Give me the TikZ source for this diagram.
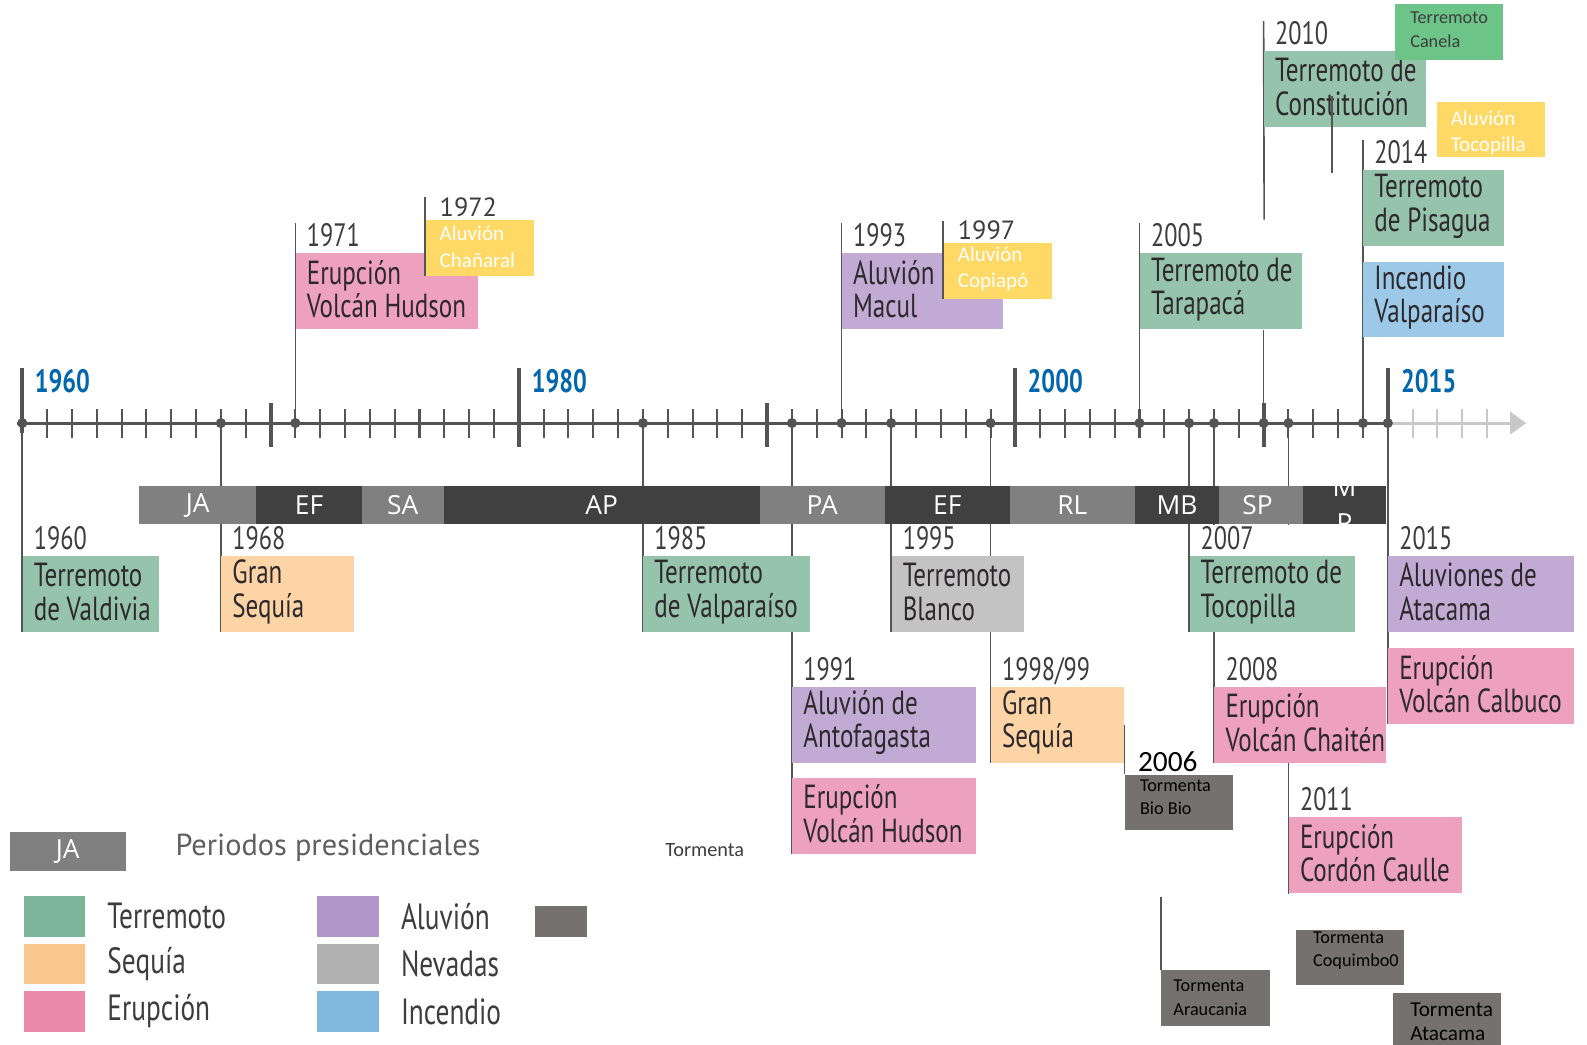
\documentclass[tikz,border=0pt]{standalone}
\usepackage{fontspec}
\setmainfont{PT Sans}
\newfontfamily\condfont{PT Sans}[FakeStretch=0.75]
\newfontfamily\calfont{Carlito}
\newfontfamily\barfont{Open Sans}
\usetikzlibrary{arrows.meta, backgrounds, positioning}

\definecolor{terr}{HTML}{96C3AC}
\definecolor{erup}{HTML}{EDA1BE}
\definecolor{aluv}{HTML}{C1AAD3}
\definecolor{sequ}{HTML}{FCD4A5}
\definecolor{neva}{HTML}{C3C3C3}
\definecolor{ince}{HTML}{9DC9E8}
\definecolor{terrkey}{HTML}{7DB59B}
\definecolor{sequkey}{HTML}{F9C68D}
\definecolor{erupkey}{HTML}{EA8AAB}
\definecolor{aluvkey}{HTML}{B196C9}
\definecolor{nevakey}{HTML}{B1B1B1}
\definecolor{incekey}{HTML}{80B9DD}
\definecolor{yell}{HTML}{FFD966}
\definecolor{canela}{HTML}{6DC489}
\definecolor{storm}{HTML}{757171}
\definecolor{barlight}{HTML}{808080}
\definecolor{bardark}{HTML}{404040}
\definecolor{axisink}{HTML}{545454}
\definecolor{lineink}{HTML}{555555}
\definecolor{fadeink}{HTML}{C8C8C8}
\definecolor{decblue}{HTML}{0067AE}
\definecolor{yrink}{HTML}{3D3D3D}
\definecolor{boxink}{HTML}{2D282C}
\definecolor{keygray}{HTML}{5F5F5F}

\begin{document}
\begin{tikzpicture}[x=0.5pt, y=-0.5pt]
  \tikzset{
   evbox/.style={rectangle, inner sep=0pt, anchor=north west, minimum height=37.5pt},
   evtext/.style={font=\condfont\fontsize{16.5}{16.5}\selectfont, text=boxink, align=left, anchor=west, inner sep=0pt},
   yrlabel/.style={font=\condfont\fontsize{16}{17}\selectfont, text=yrink, anchor=base west, inner sep=0pt},
   yrsmall/.style={font=\fontsize{13}{15}\selectfont, text=yrink, anchor=base west, inner sep=0pt},
   decade/.style={font=\condfont\bfseries\fontsize{16}{17}\selectfont, text=decblue, anchor=west, inner sep=0pt},
   evline/.style={draw=lineink, line width=0.8pt},
   minor/.style={draw=axisink, line width=1pt},
   major/.style={draw=axisink, line width=2pt},
   dot/.style={circle, fill=axisink, inner sep=0pt, minimum size=5pt},
   pres/.style={rectangle, inner sep=0pt, minimum height=19pt, anchor=west, align=center, font=\barfont\fontsize{13}{18}\selectfont, text=white},
   sbox/.style={rectangle, inner sep=0pt, anchor=north west, minimum width=53.5pt, minimum height=27.5pt},
   stext/.style={font=\calfont\fontsize{10.4}{13}\selectfont, align=left, anchor=west, inner sep=0pt},
   storm/.style={font=\calfont\fontsize{9}{11.5}\selectfont, text=black, align=left, anchor=west, inner sep=0pt},
   swatch/.style={rectangle, inner sep=0pt, anchor=north west, minimum width=30.5pt, minimum height=20pt},
   keytext/.style={font=\condfont\fontsize{18}{19}\selectfont, text=yrink, anchor=west, inner sep=0pt},
  }
  \useasboundingbox (0,0) rectangle (1568,1032);
  \begin{scope}[on background layer]
   \fill[white] (0,0) rectangle (1568,1032);
  \end{scope}

  % axis
  \coordinate (ax0) at (17,418);
  \coordinate (ax1) at (1372,418);
  \coordinate (ax2) at (1508,418);
  \draw[fadeink, line width=1.5pt, -{Triangle[length=8pt, width=11pt]}] (ax1) -- (ax2);
  \draw[axisink, line width=1.5pt] (ax0) -- (ax1);
  \foreach \k in {1,...,54} {
   \pgfmathsetmacro{\tx}{22+24.53*\k}
   \draw[minor] (\tx,404) -- (\tx,433);
  }
  \foreach \k in {56,...,59} {
   \pgfmathsetmacro{\tx}{22+24.53*\k}
   \draw[minor, fadeink] (\tx,404) -- (\tx,433);
  }
  \foreach \k/\ya/\yb in {0/364/428, 10/398/442, 20/364/442, 30/398/442, 40/364/442, 50/398/442, 55/364/418} {
   \pgfmathsetmacro{\tx}{22+24.53*\k}
   \draw[major] (\tx,\ya) -- (\tx,\yb);
  }
  \foreach \x/\t in {34/1960, 525/1980, 1015/2000, 1384/2015}
   \node[decade] (dec\t) at (\x,377) {\t};

  % event dots
  \foreach \yr in {1960,1968,1971,1985,1991,1993,1995,1999,2005,2007,2008,2010,2011,2014,2015} {
   \pgfmathsetmacro{\ex}{22+24.53*(\yr-1960)}
   \coordinate (d\yr) at (\ex,418);
  }

  % events
  \foreach \yr/\nm/\y/\w/\c/\lab/\txt in {
   1971/e1971/250/180/erup/1971/Erupción\\Volcán Hudson,
   1993/e1993/250/159/aluv/1993/Aluvión de\\Macul,
   2005/e2005/250/160/terr/2005/Terremoto de\\Tarapacá,
   2010/e2010/50/160/terr/2010/Terremoto de\\Constitución,
   2014/e2014/168/139/terr/2014/Terremoto\\de Pisagua,
   2014/e2014b/258/139/ince//Incendio\\Valparaíso,
   1960/e1960/549/135/terr/1960/Terremoto\\de Valdivia,
   1968/e1968/549/131/sequ/1968/Gran\\Sequía,
   1985/e1985/549/165/terr/1985/Terremoto\\de Valparaíso,
   1991/e1991/678/181/aluv/1991/Aluvión de\\Antofagasta,
   1991/e1991b/768/181/erup//Erupción\\Volcán Hudson,
   1995/e1995/549/131/neva/1995/Terremoto\\Blanco,
   1999/e1999/678/131/sequ/{1998/99}/Gran\\Sequía,
   2007/e2007/549/163/terr/2007/Terremoto de\\Tocopilla,
   2008/e2008/678/170/erup/2008/Erupción\\Volcán Chaitén,
   2011/e2011/807/171/erup/2011/Erupción\\Cordón Caulle,
   2015/e2015/549/184/aluv/2015/Aluviones de\\Atacama,
   2015/e2015b/640/184/erup//Erupción\\Volcán Calbuco
  } {
   \node[evbox, fill=\c, minimum width=\w*0.5pt] (\nm) at (d\yr |- 0,\y) {};
   \node[evtext] (\nm-t) at ([xshift=5.5pt, yshift=1pt]\nm.west) {\txt};
   \node[yrlabel] (\nm-y) at ([xshift=5.5pt, yshift=3pt]\nm.north west) {\lab};
  }

  % presidential periods
  \foreach \a/\b/\c/\t [count=\i] in {
   137/253/barlight/JA, 253/357/bardark/EF, 357/438/barlight/SA,
   438/750/bardark/AP, 750/874/barlight/PA, 874/997/bardark/EF,
   997/1121/barlight/RL, 1121/1204/bardark/MB, 1204/1287/barlight/SP
  } {
   \node[pres, fill=\c, minimum width=(\b-\a)*0.5pt] (p\i) at (\a,499) {\t};
  }
  \node[pres, fill=bardark, minimum width=41pt] (p10) at (1287,499) {};
  \begin{scope}
   \clip (p10.south west) rectangle (p10.north east);
   \node[pres, anchor=center] (p10-t) at (p10.center) {M\\P};
  \end{scope}

  % connectors, behind boxes and bar
  \begin{scope}[on background layer]
   \foreach \yr in {1971,1993,2005,2014}
    \draw[evline] (d\yr) -- (e\yr-y.north -| d\yr);
   \coordinate (k2010) at (1249,217);
   \draw[evline] (e2010-y.north -| d2010) -- (k2010);
   \draw[evline] (d2010) -- (e2005.south -| d2010);
   \foreach \yr/\b in {1960/e1960, 1968/e1968, 1985/e1985, 1991/e1991b, 1995/e1995, 1999/e1999, 2007/e2007, 2015/e2015b}
    \draw[evline] (d\yr) -- (\b.south west);
   \draw[evline] (d2008) -- (p1.south -| d2008);
   \draw[evline] (e2007.south -| d2008) -- (e2008.south west);
   \draw[evline] (d2011) -- (p1.south -| d2011);
   \draw[evline] (e2008.south -| d2011) -- (e2011.south west);
  \end{scope}

  \foreach \yr in {1960,1968,1971,1985,1991,1993,1995,1999,2005,2007,2008,2010,2011,2014,2015}
   \node[dot] (dot\yr) at (d\yr) {};

  % added events
  \node[sbox, fill=yell] (a1972) at (420,217) {};
  \node[stext, text=white] (a1972-t) at ([xshift=7pt, yshift=0.5pt]a1972.west) {Aluvión\\Chañaral};
  \node[yrsmall] (a1972-y) at ([xshift=7pt, yshift=1.5pt]a1972.north west) {1972};
  \draw[evline] (a1972-y.north -| a1972.west) -- (a1972.south west);

  \node[sbox, fill=yell] (a1997) at (932,240) {};
  \node[stext, text=white] (a1997-t) at ([xshift=7pt, yshift=1pt]a1997.west) {Aluvión\\Copiapó};
  \node[yrsmall] (a1997-y) at ([xshift=7pt, yshift=1.5pt]a1997.north west) {1997};
  \draw[evline] (a1997-y.north -| a1997.west) -- (a1997.south west);

  \node[sbox, fill=canela] (acanela) at (1378,4) {};
  \node[storm, text=yrink] (acanela-t) at ([xshift=7.5pt, yshift=1.25pt]acanela.west) {Terremoto\\Canela};

  \node[sbox, fill=yell] (atoco) at (1419,100) {};
  \node[stext, text=white] (atoco-t) at ([xshift=7pt, yshift=-1.75pt]atoco.west) {Aluvión\\Tocopilla};

  \coordinate (s1) at (1316,95);
  \coordinate (s2) at (1316,171);
  \draw[evline] (s1) -- (s2);

  % storms
  \coordinate (c2006) at (1111,716);
  \draw[evline] (c2006) -- (1111,765);
  \node[sbox, fill=storm] (b2006) at (1111,765) {};
  \node[storm] (b2006-t) at ([xshift=7.5pt, yshift=2.5pt]b2006.west) {Tormenta\\Bio Bio};
  \node[font=\calfont\fontsize{14.5}{16}\selectfont, text=black, anchor=base west, inner sep=0pt] (b2006-y) at ([xshift=6.5pt, yshift=1.5pt]b2006.north west) {2006};

  \node[sbox, fill=storm] (bcoq) at (1280,918) {};
  \node[storm] (bcoq-t) at ([xshift=8.5pt, yshift=3.25pt]bcoq.west) {Tormenta\\Coquimbo0};

  \coordinate (carau) at (1147,886);
  \node[sbox, fill=storm] (barau) at (1147,958) {};
  \draw[evline] (carau) -- (barau.north west);
  \node[storm] (barau-t) at ([xshift=6pt]barau.west) {Tormenta\\Araucania};

  \node[sbox, fill=storm, minimum height=28pt] (bata) at (1376,981) {};
  \node[storm, font=\calfont\fontsize{10.5}{12}\selectfont] (bata-t) at ([xshift=8.5pt]bata.west) {Tormenta\\Atacama};

  % legend
  \node[pres, fill=barlight, minimum width=57.5pt, anchor=north west] (keyJA) at (9,822) {JA};
  \node[font=\fontsize{15}{17}\selectfont, text=keygray, anchor=west, inner sep=0pt] (keyPP) at (173,838) {Periodos presidenciales};
  \foreach \n/\c/\x/\y/\t in {
   kt/terrkey/23/885/Terremoto, ks/sequkey/23/932/Sequía, ke/erupkey/23/979/Erupción,
   ka/aluvkey/313/885/Aluvión, kn/nevakey/313/932/Nevadas, ki/incekey/313/979/Incendio
  } {
   \node[swatch, fill=\c] (\n) at (\x,\y) {};
   \node[keytext] (\n-t) at ([xshift=10.5pt]\n.east) {\t};
  }
  \node[swatch, fill=storm, minimum width=26pt, minimum height=15pt] (kst) at (528,895) {};
  \node[font=\calfont\fontsize{10}{12}\selectfont, text=yrink, anchor=west, inner sep=0pt] (kst-t) at (657,840) {Tormenta};
\end{tikzpicture}
\end{document}
